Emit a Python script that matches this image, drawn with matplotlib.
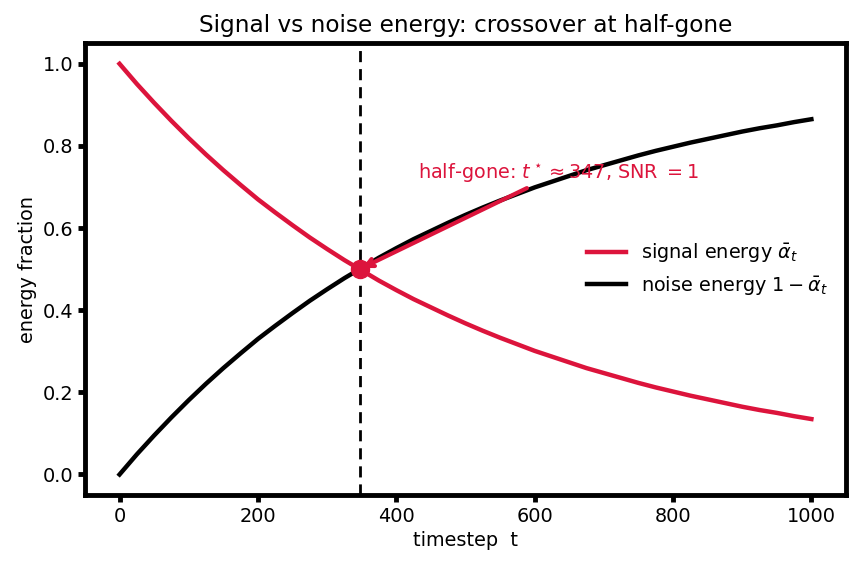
import matplotlib
matplotlib.use("Agg")
import matplotlib.pyplot as plt

# timesteps and energies
timesteps = [0, 25, 50, 75, 100, 125, 150, 175, 200, 225, 250, 275, 300, 325, 350,
             375, 400, 425, 450, 475, 500, 525, 550, 575, 600, 625, 650, 675, 700,
             725, 750, 775, 800, 825, 850, 875, 900, 925, 950, 975, 1000]
signal_energy = [1.000, 0.951, 0.905, 0.861, 0.819, 0.779, 0.741, 0.705, 0.670, 0.638,
                 0.607, 0.577, 0.549, 0.522, 0.497, 0.472, 0.449, 0.427, 0.407, 0.387,
                 0.368, 0.350, 0.333, 0.317, 0.301, 0.287, 0.273, 0.259, 0.247, 0.235,
                 0.223, 0.212, 0.202, 0.192, 0.183, 0.174, 0.165, 0.157, 0.150, 0.142, 0.135]
noise_energy = [0.000, 0.049, 0.095, 0.139, 0.181, 0.221, 0.259, 0.295, 0.330, 0.362,
                0.393, 0.423, 0.451, 0.478, 0.503, 0.528, 0.551, 0.573, 0.593, 0.613,
                0.632, 0.650, 0.667, 0.683, 0.699, 0.713, 0.727, 0.741, 0.753, 0.765,
                0.777, 0.788, 0.798, 0.808, 0.817, 0.826, 0.835, 0.843, 0.850, 0.858, 0.865]
t_star = 347
crossover_value = 0.5
label_pos = (635, 0.735)

CRIMSON = "#DC143C"

fig = plt.figure(figsize=(8.58, 5.69), dpi=100)
ax = fig.add_axes([0.099, 0.130, 0.887, 0.794])

ax.plot(timesteps, signal_energy, color=CRIMSON, lw=3.2, label=r"signal energy $\bar{\alpha}_t$", zorder=3)
ax.plot(timesteps, noise_energy, color="black", lw=3.2, label=r"noise energy $1-\bar{\alpha}_t$", zorder=3)
ax.axvline(t_star, color="black", lw=2, ls=(0, (4, 2.5)), zorder=2)
ax.plot([t_star], [crossover_value], "o", color=CRIMSON, markersize=13, zorder=5)

ax.annotate(r"half-gone: $t^\star \approx 347$, SNR $=1$",
            xy=(t_star, crossover_value), xytext=label_pos,
            ha="center", va="center", color=CRIMSON, fontsize=13.9,
            arrowprops=dict(arrowstyle="->", color=CRIMSON, lw=3), zorder=4)

ax.set_title("Signal vs noise energy: crossover at half-gone", fontsize=16.7, pad=8)
ax.set_xlabel("timestep  t", fontsize=13.9)
ax.set_ylabel("energy fraction", fontsize=13.9)
ax.set_xticks([0, 200, 400, 600, 800, 1000])
ax.set_yticks([0.0, 0.2, 0.4, 0.6, 0.8, 1.0])
ax.tick_params(width=3.5, length=5, labelsize=13.9)
for s in ax.spines.values():
    s.set_linewidth(3.5)

ax.legend(loc="center right", frameon=False, fontsize=13.9, handlelength=2.0)

fig.savefig("out.png", dpi=100)
